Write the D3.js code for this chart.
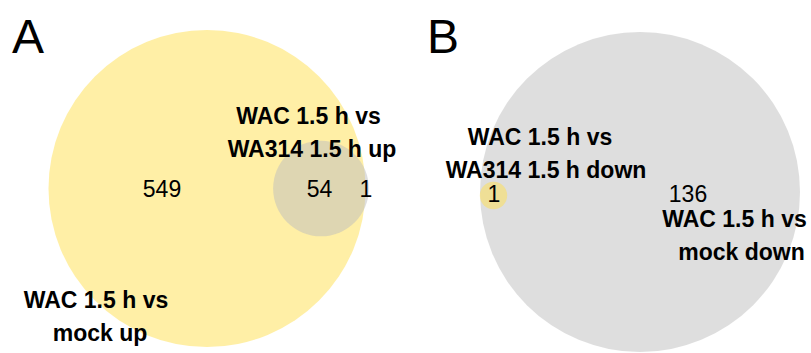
<!DOCTYPE html>
<html>
<head>
<meta charset="utf-8">
<script src="https://cdn.jsdelivr.net/npm/d3@7"></script>
<style>
  html, body { margin: 0; padding: 0; background: #fff; }
  svg { display: block; }
  text { font-family: "Liberation Sans", Arial, sans-serif; fill: #000; }
</style>
</head>
<body>
<svg id="chart" width="811" height="353"></svg>
<script>
// ---- data ----
const panels = ["A", "B"];
// panel A: WAC vs mock up (big), WAC vs WA314 up (small)
const setNamesA = [["WAC 1.5 h vs", "mock up"], ["WAC 1.5 h vs", "WA314 1.5 h up"]];
const regionCountsA = [549, 54, 1];          // only big, overlap, only small
// panel B: WAC vs mock down (big), WAC vs WA314 down (small)
const setNamesB = [["WAC 1.5 h vs", "mock down"], ["WAC 1.5 h vs", "WA314 1.5 h down"]];
const regionCountsB = [136, 1, 0];          // only big, overlap, only small

// ---- layout (not data) ----
const layout = {
  A: {
    letter: [12, 53],
    R: 158.5,
    centers: [[207, 188.5], [321, 188.5]],
    colors: ["#FFE04D", "#BEBEBE"],
    order: [0, 1],
    nameLabels: [[[96, 308], [100, 341]], [[308.5, 124], [312, 157]]],
    countLabels: [[162, 197], [319.5, 197], [366, 197]]
  },
  B: {
    letter: [427, 53],
    R: 160,
    centers: [[640, 192], [493.5, 195.5]],
    colors: ["#BEBEBE", "#FFE04D"],
    order: [0, 1],
    nameLabels: [[[734.5, 227], [741.5, 260]], [[540, 145], [546, 178]]],
    countLabels: [[688, 202], [494, 202], null]
  }
};

const svg = d3.select("#chart");
svg.append("rect").attr("width", 811).attr("height", 353).attr("fill", "#fff");

function drawPanel(key, names, counts) {
  const L = layout[key];
  const sizes = [counts[0] + counts[1], counts[1] + counts[2]];
  const r = d3.scaleSqrt().domain([0, d3.max(sizes)]).range([0, L.R]);
  const g = svg.append("g");

  g.selectAll("circle")
    .data(L.order.map(i => ({ i, size: sizes[i] })))
    .join("circle")
    .attr("cx", d => L.centers[d.i][0])
    .attr("cy", d => L.centers[d.i][1])
    .attr("r", d => r(d.size))
    .attr("fill", d => L.colors[d.i])
    .attr("fill-opacity", 0.5);

  // counts
  counts.forEach((c, k) => {
    if (!L.countLabels[k] || (c === 0 && k === 2)) return;
    g.append("text")
      .attr("x", L.countLabels[k][0])
      .attr("y", L.countLabels[k][1])
      .attr("text-anchor", "middle")
      .attr("font-size", 23)
      .text(c);
  });

  // set names
  names.forEach((lines, i) => {
    const t = g.append("text")
      .attr("text-anchor", "middle")
      .attr("font-size", 23)
      .attr("font-weight", "bold");
    lines.forEach((ln, j) => {
      t.append("tspan")
        .attr("x", L.nameLabels[i][j][0])
        .attr("y", L.nameLabels[i][j][1])
        .text(ln);
    });
  });

  g.append("text")
    .attr("x", L.letter[0])
    .attr("y", L.letter[1])
    .attr("font-size", 48)
    .text(key);
}

drawPanel("A", setNamesA, regionCountsA);
drawPanel("B", setNamesB, regionCountsB);
</script>
</body>
</html>
